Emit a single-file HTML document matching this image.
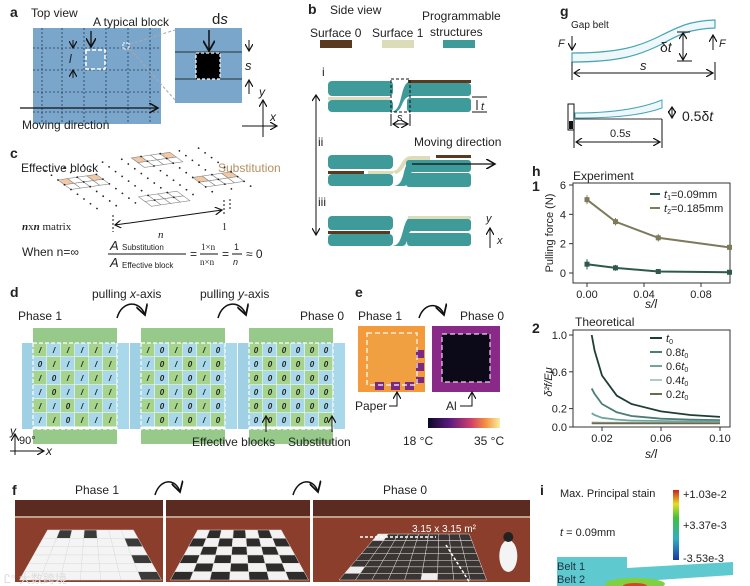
<!DOCTYPE html>
<html><head><meta charset="utf-8">
<style>
html,body{margin:0;padding:0;background:#fff;}
body{width:750px;height:586px;overflow:hidden;position:relative;font-family:"Liberation Sans",sans-serif;}
svg{position:absolute;left:0;top:0;}
text{font-family:"Liberation Sans",sans-serif;fill:#222;}
.lb{font-weight:bold;font-size:14px;}
.t{font-size:12px;}
.s{font-size:10px;}
</style></head>
<body>
<svg id="fig" width="750" height="586" viewBox="0 0 750 586">
<defs>
<marker id="ah" markerWidth="8" markerHeight="8" refX="7" refY="4" orient="auto"><path d="M0,0 L7,4 L0,8" fill="none" stroke="#111" stroke-width="1.2"/></marker>
<marker id="ahs" markerWidth="8" markerHeight="8" refX="1" refY="4" orient="auto"><path d="M7,0 L1,4 L7,8" fill="none" stroke="#111" stroke-width="1.2"/></marker>
<linearGradient id="thermo" x1="0" x2="1"><stop offset="0" stop-color="#0b0a25"/><stop offset="0.3" stop-color="#5a1a80"/><stop offset="0.6" stop-color="#d0406a"/><stop offset="0.8" stop-color="#f59040"/><stop offset="1" stop-color="#f8f0a0"/></linearGradient>
<linearGradient id="strain" x1="0" y1="1" x2="0" y2="0"><stop offset="0" stop-color="#1a3aa0"/><stop offset="0.3" stop-color="#30b0c0"/><stop offset="0.6" stop-color="#40c040"/><stop offset="0.8" stop-color="#e0e020"/><stop offset="1" stop-color="#d02020"/></linearGradient>
</defs>

<!-- Panel a -->
<g>
<text class="lb" x="10" y="17">a</text><text class="t" x="31" y="17">Top view</text>
<rect x="33" y="28" width="128" height="96" fill="#7aa6cc"/>
<g stroke="#2a3a55" stroke-width="0.8" stroke-dasharray="2,2">
<line x1="33" y1="48" x2="161" y2="48"/><line x1="33" y1="70" x2="161" y2="70"/><line x1="33" y1="92" x2="161" y2="92"/><line x1="33" y1="112" x2="161" y2="112"/>
<line x1="42" y1="28" x2="42" y2="124"/><line x1="62" y1="28" x2="62" y2="124"/><line x1="84" y1="28" x2="84" y2="124"/><line x1="106" y1="28" x2="106" y2="124"/><line x1="128" y1="28" x2="128" y2="124"/><line x1="150" y1="28" x2="150" y2="124"/></g>
<rect x="86" y="50" width="19" height="19" fill="none" stroke="#fff" stroke-width="1.5" stroke-dasharray="4,2"/>
<rect x="123" y="43" width="6" height="6" fill="none" stroke="#fff" stroke-width="1" stroke-dasharray="2,1"/>
<line x1="91" y1="31" x2="91" y2="47" stroke="#111" stroke-width="1.3" marker-end="url(#ah)"/>
<text class="t" x="93" y="26">A typical block</text>
<line x1="73" y1="40" x2="73" y2="48" stroke="#111" marker-end="url(#ah)"/><line x1="73" y1="78" x2="73" y2="70" stroke="#111" marker-end="url(#ah)"/>
<text x="69" y="63" font-size="12" font-style="italic">l</text>
<line x1="130" y1="44" x2="175" y2="30" stroke="#aaa" stroke-dasharray="3,2"/><line x1="130" y1="49" x2="175" y2="100" stroke="#aaa" stroke-dasharray="3,2"/>
<rect x="175" y="28" width="67" height="75" fill="#7aa6cc"/>
<line x1="175" y1="52" x2="242" y2="52" stroke="#233"/><line x1="175" y1="79" x2="242" y2="79" stroke="#233"/>
<rect x="196" y="53" width="24" height="26" fill="#000" stroke="#fff" stroke-width="1.2" stroke-dasharray="3,2"/>
<line x1="209" y1="30" x2="209" y2="51" stroke="#111" stroke-width="1.5" marker-end="url(#ah)"/>
<text x="212" y="24" font-size="15">d<tspan font-style="italic">s</tspan></text>
<line x1="249" y1="40" x2="249" y2="51" stroke="#111" marker-end="url(#ah)"/><line x1="249" y1="94" x2="249" y2="80" stroke="#111" marker-end="url(#ah)"/>
<text x="245" y="70" font-size="13" font-style="italic">s</text>
<line x1="20" y1="108" x2="158" y2="108" stroke="#111" stroke-width="1.3" marker-end="url(#ah)"/>
<text class="t" x="22" y="129">Moving direction</text>
<line x1="263" y1="137" x2="263" y2="100" stroke="#111" marker-end="url(#ah)"/><line x1="242" y1="126" x2="277" y2="126" stroke="#111" marker-end="url(#ah)"/>
<text x="259" y="96" font-size="12" font-style="italic">y</text><text x="270" y="121" font-size="12" font-style="italic">x</text>
</g>

<!-- Panel c -->
<g>
<text class="lb" x="10" y="158">c</text>
<text class="t" x="21" y="172">Effective block</text><text class="t" x="218" y="172" style="fill:#b39060">Substitution</text>
<g id="cgrid" stroke="#888" stroke-width="0.6" fill="none"></g>
<line x1="115" y1="225" x2="222" y2="210" stroke="#111" marker-end="url(#ah)" marker-start="url(#ahs)"/>
<line x1="113" y1="215" x2="113" y2="232" stroke="#111" stroke-dasharray="2,2"/><line x1="224" y1="200" x2="224" y2="216" stroke="#111" stroke-dasharray="2,2"/><line x1="230" y1="199" x2="230" y2="210" stroke="#111" stroke-dasharray="2,2"/>
<text x="158" y="238" font-size="11" font-style="italic" style="font-family:'Liberation Serif'">n</text><text x="222" y="230" font-size="10" style="font-family:'Liberation Serif'">1</text>
<text x="22" y="230" font-size="11" style="font-family:'Liberation Serif'"><tspan font-weight="bold" font-style="italic">n</tspan>x<tspan font-weight="bold" font-style="italic">n</tspan> matrix</text>
<text class="t" x="22" y="256">When n=∞</text>
<text x="110" y="250" font-size="13" font-style="italic">A</text><text x="122" y="250" font-size="8">Substitution</text>
<line x1="108" y1="254" x2="186" y2="254" stroke="#111"/>
<text x="110" y="267" font-size="13" font-style="italic">A</text><text x="122" y="268" font-size="8">Effective block</text>
<text x="190" y="258" font-size="12">=</text>
<text x="201" y="250" font-size="9" style="font-family:'Liberation Serif'">1×n</text><line x1="200" y1="254" x2="218" y2="254" stroke="#111"/><text x="200" y="265" font-size="9" style="font-family:'Liberation Serif'">n×n</text>
<text x="222" y="258" font-size="12">=</text>
<text x="234" y="250" font-size="9">1</text><line x1="232" y1="254" x2="242" y2="254" stroke="#111"/><text x="233" y="265" font-size="9" font-style="italic">n</text>
<text x="246" y="258" font-size="12">≈ 0</text>
</g>

<!-- Panel b -->
<g>
<text class="lb" x="308" y="14">b</text><text class="t" x="330" y="14">Side view</text>
<text class="t" x="310" y="37">Surface 0</text><text class="t" x="372" y="37">Surface 1</text>
<text class="t" x="422" y="20">Programmable</text><text class="t" x="430" y="36">structures</text>
<rect x="320" y="40" width="32" height="8" fill="#5a3a1e"/>
<rect x="382" y="40" width="32" height="8" fill="#dcdcb8"/>
<rect x="443" y="40" width="32" height="8" fill="#3f9a9a"/>
<line x1="316" y1="95" x2="316" y2="235" stroke="#111" marker-end="url(#ah)" marker-start="url(#ahs)"/>
<text x="322" y="76" font-size="12">i</text><text x="318" y="146" font-size="12">ii</text><text x="318" y="206" font-size="12">iii</text>
<rect x="328" y="81" width="65" height="15" rx="4" fill="#3f9a9a"/><rect x="328" y="100" width="65" height="12" rx="4" fill="#3f9a9a"/>
<rect x="328" y="97" width="62" height="3" fill="#dcdcb8"/>
<path d="M390,112 C405,112 398,81 412,81 L412,96 C400,96 404,112 394,112Z" fill="#3f9a9a"/>
<rect x="407" y="83" width="64" height="13" rx="3" fill="#3f9a9a"/><rect x="407" y="98" width="64" height="14" rx="3" fill="#3f9a9a"/>
<rect x="408" y="80" width="63" height="3" fill="#5a3a1e"/>
<rect x="391" y="79" width="19" height="33" fill="none" stroke="#111" stroke-dasharray="3,2"/>
<line x1="472" y1="97" x2="487" y2="97" stroke="#111"/><line x1="472" y1="112" x2="487" y2="112" stroke="#111"/>
<line x1="477" y1="100" x2="477" y2="110" stroke="#111" stroke-width="1"/><text x="481" y="110" font-size="11" font-style="italic">t</text>
<line x1="391" y1="114" x2="391" y2="126" stroke="#111"/><line x1="410" y1="114" x2="410" y2="126" stroke="#111"/>
<line x1="393" y1="124" x2="408" y2="124" stroke="#111" marker-end="url(#ah)" marker-start="url(#ahs)"/><text x="397" y="121" font-size="11" font-style="italic">s</text>
<text class="t" x="414" y="146">Moving direction</text>
<rect x="328" y="155" width="65" height="14" rx="4" fill="#3f9a9a"/><rect x="328" y="174" width="65" height="12" rx="4" fill="#3f9a9a"/>
<rect x="328" y="171" width="36" height="3" fill="#5a3a1e"/><rect x="368" y="171" width="25" height="3" fill="#dcdcb8"/>
<path d="M392,171 C402,171 400,156 412,156 L430,156 L430,160 L414,160 C404,160 405,171 396,174Z" fill="#dcdcb8"/>
<path d="M393,186 C408,186 400,160 414,160 L414,172 C405,172 410,186 404,186Z" fill="#3f9a9a"/>
<rect x="406" y="160" width="65" height="12" rx="3" fill="#3f9a9a"/><rect x="406" y="173" width="65" height="14" rx="3" fill="#3f9a9a"/>
<rect x="436" y="155" width="35" height="3" fill="#5a3a1e"/>
<line x1="412" y1="164" x2="495" y2="164" stroke="#111" stroke-width="1.3" marker-end="url(#ah)"/>
<rect x="328" y="216" width="65" height="14" rx="4" fill="#3f9a9a"/><rect x="328" y="234" width="65" height="12" rx="4" fill="#3f9a9a"/>
<rect x="328" y="231" width="62" height="3" fill="#5a3a1e"/>
<path d="M392,246 C406,246 400,216 414,216 L414,230 C405,230 410,246 402,246Z" fill="#3f9a9a"/>
<rect x="407" y="219" width="64" height="12" rx="3" fill="#3f9a9a"/><rect x="407" y="233" width="64" height="13" rx="3" fill="#3f9a9a"/>
<rect x="408" y="216" width="63" height="3" fill="#dcdcb8"/>
<line x1="490" y1="248" x2="490" y2="228" stroke="#111" marker-end="url(#ah)"/><text x="486" y="222" font-size="11" font-style="italic">y</text><text x="497" y="244" font-size="11" font-style="italic">x</text>
</g>

<!-- Panel g -->
<g>
<text class="lb" x="560" y="16">g</text>
<text x="571" y="28" font-size="10">Gap belt</text>
<path d="M572,53 C620,53 640,46 660,36 C680,26 690,21 715,20 L715,28 C690,29 680,34 662,44 C640,55 620,62 572,62Z" fill="#eef8fa" stroke="#4aa5b5" stroke-width="1.2"/>
<text x="558" y="47" font-size="11" font-style="italic">F</text><line x1="572" y1="36" x2="572" y2="50" stroke="#111" marker-end="url(#ah)"/>
<line x1="713" y1="50" x2="713" y2="35" stroke="#111" marker-end="url(#ah)"/><text x="719" y="47" font-size="11" font-style="italic">F</text>
<line x1="677" y1="32" x2="690" y2="32" stroke="#111"/><line x1="677" y1="61" x2="692" y2="61" stroke="#111"/>
<line x1="683" y1="33" x2="683" y2="60" stroke="#111" marker-end="url(#ah)" marker-start="url(#ahs)"/>
<text x="660" y="52" font-size="14">δ<tspan font-style="italic">t</tspan></text>
<line x1="572" y1="62" x2="572" y2="80" stroke="#111"/><line x1="715" y1="62" x2="715" y2="80" stroke="#111"/>
<line x1="574" y1="73" x2="713" y2="73" stroke="#111" marker-end="url(#ah)" marker-start="url(#ahs)"/>
<text x="640" y="70" font-size="13" font-style="italic">s</text>
<rect x="568" y="104" width="6" height="26" fill="#fff" stroke="#111"/><rect x="569" y="121" width="4" height="8" fill="#111"/>
<path d="M575,113 C610,113 640,109 662,100 L662,108 C640,116 610,118 575,118Z" fill="#eef8fa" stroke="#4aa5b5"/>
<line x1="575" y1="119" x2="662" y2="119" stroke="#333"/>
<line x1="672" y1="107" x2="672" y2="118" stroke="#111" marker-end="url(#ah)" marker-start="url(#ahs)"/>
<text x="682" y="121" font-size="14">0.5δ<tspan font-style="italic">t</tspan></text>
<line x1="574" y1="130" x2="574" y2="148" stroke="#111"/><line x1="662" y1="119" x2="662" y2="148" stroke="#111"/>
<line x1="576" y1="142" x2="660" y2="142" stroke="#111" marker-end="url(#ah)" marker-start="url(#ahs)"/>
<text x="610" y="137" font-size="11">0.5<tspan font-style="italic">s</tspan></text>
</g>

<!-- Panel h -->
<g>
<text class="lb" x="532" y="176">h</text><text class="lb" x="532" y="191">1</text>
<text class="t" x="573" y="180">Experiment</text>
<g id="h1"></g>
<text class="lb" x="532" y="333">2</text><text class="t" x="575" y="326">Theoretical</text>
<g id="h2"></g>
</g>

<!-- Panel d -->
<g>
<text class="lb" x="10" y="297">d</text>
<text class="t" x="18" y="320">Phase 1</text><text class="t" x="300" y="320">Phase 0</text>
<text class="t" x="92" y="298">pulling <tspan font-style="italic">x</tspan>-axis</text>
<text class="t" x="200" y="298">pulling <tspan font-style="italic">y</tspan>-axis</text>
<path d="M117,318 C122,300 140,300 145,315" fill="none" stroke="#111" stroke-width="1.5" marker-end="url(#ah)"/>
<path d="M218,318 C223,300 241,300 246,315" fill="none" stroke="#111" stroke-width="1.5" marker-end="url(#ah)"/>
<g id="dgrids"></g>
<text class="t" x="192" y="446">Effective blocks</text><text class="t" x="288" y="446">Substitution</text>
<line x1="266" y1="432" x2="266" y2="416" stroke="#111" marker-end="url(#ah)"/><line x1="332" y1="432" x2="332" y2="416" stroke="#111" marker-end="url(#ah)"/>
<line x1="15" y1="455" x2="15" y2="434" stroke="#111" marker-end="url(#ah)"/><line x1="10" y1="451" x2="44" y2="451" stroke="#111" marker-end="url(#ah)"/>
<text x="10" y="435" font-size="12" font-style="italic">y</text><text x="46" y="455" font-size="12" font-style="italic">x</text><text x="19" y="444" font-size="11">90°</text>
</g>

<!-- Panel e -->
<g>
<text class="lb" x="355" y="297">e</text>
<text class="t" x="358" y="320">Phase 1</text><text class="t" x="460" y="320">Phase 0</text>
<path d="M419,318 C424,302 440,302 444,315" fill="none" stroke="#111" stroke-width="1.5" marker-end="url(#ah)"/>
<rect x="358" y="326" width="67" height="66" fill="#f39a3a"/>
<rect x="366" y="333" width="50" height="52" fill="#f0a040"/>
<rect x="375" y="382" width="9" height="8" fill="#7a2a80"/><rect x="391" y="382" width="9" height="8" fill="#7a2a80"/><rect x="405" y="382" width="9" height="8" fill="#7a2a80"/>
<rect x="416" y="350" width="8" height="8" fill="#7a2a80"/><rect x="416" y="363" width="8" height="8" fill="#7a2a80"/><rect x="416" y="377" width="8" height="6" fill="#7a2a80"/>
<rect x="367" y="333" width="50" height="52" fill="none" stroke="#fff" stroke-dasharray="5,3" stroke-width="1.2"/>
<rect x="432" y="326" width="68" height="66" fill="#8a2a88"/>
<rect x="442" y="334" width="48" height="48" fill="#0c0a18" stroke="#f0d0f0" stroke-dasharray="5,3" stroke-width="1.2"/>
<text class="t" x="355" y="410">Paper</text><path d="M389,406 L397,406 L397,392" fill="none" stroke="#111" marker-end="url(#ah)"/>
<text class="t" x="446" y="410">Al</text><path d="M460,406 L472,406 L472,392" fill="none" stroke="#111" marker-end="url(#ah)"/>
<rect x="428" y="418" width="72" height="10" fill="url(#thermo)"/>
<text class="t" x="403" y="445">18 °C</text><text class="t" x="474" y="445">35 °C</text>
</g>

<!-- Panel f -->
<g>
<text class="lb" x="12" y="495">f</text>
<text class="t" x="75" y="494">Phase 1</text><text class="t" x="383" y="494">Phase 0</text>
<path d="M155,495 C160,478 176,478 180,492" fill="none" stroke="#111" stroke-width="1.5" marker-end="url(#ah)"/>
<path d="M293,495 C298,478 314,478 318,492" fill="none" stroke="#111" stroke-width="1.5" marker-end="url(#ah)"/>
<g id="photos"></g>
<text x="412" y="532" font-size="10" style="fill:#fff">3.15 x 3.15 m²</text>
<line x1="360" y1="537" x2="436" y2="537" stroke="#fff" stroke-dasharray="3,2" stroke-width="1.5"/>
<line x1="446" y1="545" x2="470" y2="583" stroke="#fff" stroke-dasharray="3,2" stroke-width="1.5"/>
<text x="4" y="583" font-size="12" style="fill:#ddd;font-family:'Liberation Sans','Noto Sans CJK SC',sans-serif">Ꮭ° 大数跨境</text>
</g>

<!-- Panel i -->
<g>
<text class="lb" x="540" y="495">i</text>
<text x="560" y="497" font-size="11">Max. Principal stain</text>
<rect x="673" y="490" width="6" height="70" fill="url(#strain)"/>
<text x="683" y="498" font-size="11">+1.03e-2</text><text x="683" y="529" font-size="11">+3.37e-3</text><text x="683" y="562" font-size="11">-3.53e-3</text>
<text x="560" y="536" font-size="11"><tspan font-style="italic">t</tspan> = 0.09mm</text>
<rect x="557" y="557" width="70" height="20" fill="#5ecad0"/>
<path d="M627,568 L733,562 L733,575 L627,582Z" fill="#5ecad0"/>
<rect x="557" y="577" width="90" height="9" fill="#5ecad0"/>
<ellipse cx="635" cy="584" rx="30" ry="6" fill="#80d040"/><ellipse cx="635" cy="586" rx="12" ry="3" fill="#e04020"/>
<text x="557" y="570" font-size="11" style="fill:#234">Belt 1</text><text x="557" y="583" font-size="11" style="fill:#234">Belt 2</text>
</g>
</svg>

<script>
// ===== Chart h1 data =====
const h1X = [0.0, 0.02, 0.05, 0.1];
const h1T1 = [0.6, 0.35, 0.1, 0.05];
const h1T2 = [5.0, 3.5, 2.4, 1.75];
const h1T1Err = [0.35, 0.2, 0.08, 0.06];
const h1T2Err = [0.3, 0.25, 0.25, 0.2];
const h1XTicks = [0.00, 0.04, 0.08];
const h1YTicks = [0, 2, 4, 6];
const h1Legend = ["=0.09mm", "=0.185mm"];
// ===== Chart h2 data =====
const h2X = [0.013, 0.015, 0.02, 0.03, 0.04, 0.06, 0.08, 0.1];
const h2T0 = [1.0, 0.83, 0.56, 0.34, 0.25, 0.17, 0.13, 0.11];
const h2T08 = [0.42, 0.36, 0.25, 0.16, 0.12, 0.09, 0.08, 0.075];
const h2T06 = [0.15, 0.13, 0.10, 0.08, 0.07, 0.065, 0.06, 0.06];
const h2T04 = [0.05, 0.05, 0.048, 0.047, 0.046, 0.046, 0.045, 0.045];
const h2T02 = [0.04, 0.04, 0.04, 0.04, 0.04, 0.04, 0.04, 0.04];
const h2XTicks = [0.02, 0.06, 0.10];
const h2YTicks = [0.0, 0.2, 0.6, 1.0];
const h2Labels = ["", "0.8", "0.6", "0.4", "0.2"];

const NS = "http://www.w3.org/2000/svg";
function mk(tag, attrs, parent) { const e = document.createElementNS(NS, tag); for (const k in attrs) e.setAttribute(k, attrs[k]); parent.appendChild(e); return e; }
function txt(x, y, s, size, parent, extra) { const t = mk("text", Object.assign({x: x, y: y, "font-size": size}, extra || {}), parent); t.textContent = s; return t; }

// h1
(function(){
  const g = document.getElementById("h1");
  const L = 573, R = 730, T = 183, B = 283;
  const xs = v => 587 + (v - 0) * (701 - 587) / 0.08;
  const ys = v => 273 - v * (273 - 185) / 6;
  const box = mk("rect", {x: L, y: T, width: R - L, height: B - T, fill: "none", stroke: "#333"}, g);
  
  
  h1XTicks.forEach(v => { mk("line", {x1: xs(v), x2: xs(v), y1: B, y2: B + 4, stroke: "#333"}, g); txt(xs(v), B + 15, v.toFixed(2), 11, g, {"text-anchor": "middle"}); });
  h1YTicks.forEach(v => { mk("line", {x1: L - 4, x2: L, y1: ys(v), y2: ys(v), stroke: "#333"}, g); txt(L - 7, ys(v) + 4, String(v), 11, g, {"text-anchor": "end"}); });
  txt(651, 308, "s/l", 12, g, {"text-anchor": "middle", "font-style": "italic"});
  txt(0, 0, "Pulling force (N)", 11, g, {"text-anchor": "middle", transform: "translate(553,233) rotate(-90)"});
  const series = [[h1T1, h1T1Err, "#2d5a4c"], [h1T2, h1T2Err, "#7d7a5c"]];
  series.forEach((s, si) => {
    const pts = h1X.map((x, i) => xs(x) + "," + ys(s[0][i])).join(" ");
    const pl = mk("polyline", {points: pts, fill: "none", stroke: s[2], "stroke-width": 2}, g);
    
    
    h1X.forEach((x, i) => {
      mk("line", {x1: xs(x), x2: xs(x), y1: ys(s[0][i] + s[1][i]), y2: ys(s[0][i] - s[1][i]), stroke: s[2]}, g);
      const p = mk("rect", {x: xs(x) - 2.5, y: ys(s[0][i]) - 2.5, width: 5, height: 5, fill: s[2]}, g);
      
      
    });
    const ly = 198 + si * 14;
    mk("line", {x1: 650, x2: 660, y1: ly - 4, y2: ly - 4, stroke: s[2], "stroke-width": 2}, g);
    const lt = txt(664, ly, "", 11, g);
    lt.innerHTML = '<tspan font-style="italic">t</tspan><tspan font-size="7" dy="2">' + (si + 1) + '</tspan><tspan dy="-2">' + h1Legend[si] + '</tspan>';
    
    
  });
})();

// h2
(function(){
  const g = document.getElementById("h2");
  const L = 573, R = 730, T = 330, B = 427;
  const xs = v => 602 + (v - 0.02) * (720 - 602) / 0.08;
  const ys = v => 427 - v * (427 - 335);
  const box = mk("rect", {x: L, y: T, width: R - L, height: B - T, fill: "none", stroke: "#333"}, g);
  
  
  h2XTicks.forEach(v => { mk("line", {x1: xs(v), x2: xs(v), y1: B, y2: B + 4, stroke: "#333"}, g); txt(xs(v), B + 15, v.toFixed(2), 11, g, {"text-anchor": "middle"}); });
  h2YTicks.forEach(v => { mk("line", {x1: L - 4, x2: L, y1: ys(v), y2: ys(v), stroke: "#333"}, g); txt(L - 6, ys(v) + 4, v.toFixed(1), 11, g, {"text-anchor": "end"}); });
  txt(651, 458, "s/l", 12, g, {"text-anchor": "middle", "font-style": "italic"});
  txt(0, 0, "δ²f/Eμ", 11, g, {"text-anchor": "middle", "font-style": "italic", transform: "translate(552,382) rotate(-90)"});
  const ser = [h2T0, h2T08, h2T06, h2T04, h2T02];
  const cols = ["#1e3d36", "#4a7d74", "#6fa69c", "#b3c8c0", "#6b6a50"];
  ser.forEach((s, si) => {
    let d = "";
    h2X.forEach((x, i) => { d += (i ? " L" : "M") + xs(x).toFixed(1) + "," + ys(s[i]).toFixed(1); });
    const p = mk("path", {d: d, fill: "none", stroke: cols[si], "stroke-width": 1.8, "stroke-linejoin": "round"}, g);
    
    
    const ly = 342 + si * 14;
    mk("line", {x1: 650, x2: 662, y1: ly - 4, y2: ly - 4, stroke: cols[si], "stroke-width": 2}, g);
    const lt = txt(666, ly, "", 11, g);
    lt.innerHTML = h2Labels[si] + '<tspan font-style="italic">t</tspan><tspan font-size="7" dy="2">0</tspan>';
    
    
  });
})();

// Panel c isometric grid (illustration)
(function(){
  const g = document.getElementById("cgrid");
  const ox = 58, oy = 180;
  function pt(i, j) { return [ox + j * 9.6 + i * 6.5, oy - j * 1.4 + i * 4.75]; }
  const blocks = [[0,0,true],[-2,9,true],[5,5,false],[3,12,true]];
  blocks.forEach(b => {
    for (let i = 0; i < 2; i++) for (let j = 0; j < 4; j++) {
      const p = [pt(b[0]+i, b[1]+j), pt(b[0]+i, b[1]+j+1), pt(b[0]+i+1, b[1]+j+1), pt(b[0]+i+1, b[1]+j)];
      const fill = (b[2] && i === 0 && (j === 0 || j === 3)) ? "#f2c9a4" : "#fff";
      mk("polygon", {points: p.map(q => q.join(",")).join(" "), fill: fill}, g);
    }
  });
  for (let i = 0; i <= 8; i++) for (let j = 0; j <= 16; j += 2) {
    const p = pt(i - 2, j);
    mk("circle", {cx: p[0], cy: p[1], r: 0.9, fill: "#222", stroke: "none"}, g);
  }
})();

// Panel d grids
(function(){
  const g = document.getElementById("dgrids");
  const xs0 = [22, 130, 238];
  const pats = ["IIIIII0IIIIII0IIIII0IIIIII0IIIII0IIIII", "I0I0I0I0I0I0I0I0I0I0I0I0I0I0I0I0I0I0I0", "00000000000000000000000000000000000000"];
  xs0.forEach((x0, k) => {
    const y0 = 328, cw = 14, ch = 14;
    mk("rect", {x: x0 + 11, y: y0, width: 84, height: 15, fill: "#96c98a"}, g);
    mk("rect", {x: x0 + 11, y: y0 + 101, width: 84, height: 15, fill: "#96c98a"}, g);
    mk("rect", {x: x0, y: y0 + 15, width: 11, height: 86, fill: "#9fd0e4"}, g);
    mk("rect", {x: x0 + 95, y: y0 + 15, width: 12, height: 86, fill: "#a8d8ea"}, g);
    let n = 0;
    for (let r = 0; r < 6; r++) for (let c = 0; c < 6; c++) {
      const fill = (r + c) % 2 ? "#a8d8ea" : "#a6d48c";
      mk("rect", {x: x0 + 11 + c * cw, y: y0 + 15 + r * ch, width: cw - 0.5, height: ch - 0.5, fill: fill}, g);
      const ch_ = pats[k][n++ % pats[k].length];
      txt(x0 + 11 + c * cw + 7, y0 + 15 + r * ch + 10, ch_ === "I" ? "/" : "0", 8, g, {"text-anchor": "middle", "font-style": "italic", "font-weight": "bold"});
    }
    mk("rect", {x: x0 + 11, y: y0 + 15, width: 84, height: 86, fill: "none", stroke: "#fff", "stroke-dasharray": "4,2", "stroke-width": 1.2}, g);
  });
})();

// Panel f photos (illustration)
(function(){
  const g = document.getElementById("photos");
  const frames = [[15, 163, 0], [166, 310, 1], [313, 530, 2]];
  frames.forEach(f => {
    const x0 = f[0], x1 = f[1], w = x1 - x0, y0 = 500, y1 = 582;
    mk("rect", {x: x0, y: y0, width: w, height: y1 - y0, fill: "#8b3e2c"}, g);
    mk("rect", {x: x0, y: y0, width: w, height: 16, fill: "#5b2a20"}, g);
    mk("rect", {x: x0, y: y0 + 16, width: w, height: 2, fill: "#c0a080"}, g);
    const n = 7, m = 6;
    let tl = [x0 + w * 0.22, 530], tr = [x0 + w * 0.80, 530], bl = [x0 + w * 0.03, 580], br = [x0 + w * 0.99, 580];
    if (f[2] === 2) { tl = [x0 + w * 0.30, 534]; tr = [x0 + w * 0.72, 534]; bl = [x0 + w * 0.12, 580]; br = [x0 + w * 0.80, 580]; }
    const lerp = (a, b, t) => [a[0] + (b[0] - a[0]) * t, a[1] + (b[1] - a[1]) * t];
    const nn = f[2] === 2 ? 9 : n, mm = f[2] === 2 ? 7 : m;
    for (let r = 0; r < mm; r++) for (let c = 0; c < nn; c++) {
      const P = (rr, cc) => lerp(lerp(tl, tr, cc / nn), lerp(bl, br, cc / nn), rr / mm);
      const pts = [P(r, c), P(r, c + 1), P(r + 1, c + 1), P(r + 1, c)].map(q => q.join(",")).join(" ");
      let fill;
      if (f[2] === 0) fill = (c > 5 && r > 0 && r % 2 === 1) || (r === 0 && c % 2 === 1 && c < 5) ? "#3a3a38" : "#f4f4f4";
      else if (f[2] === 1) fill = (r + c) % 2 ? "#2e2c2a" : "#f2f2f2";
      else fill = (r === 0 && c < 1) || (r === 6 && c === 5) || (r === 5 && c === 0) ? "#eee" : "#3a3532";
      mk("polygon", {points: pts, fill: fill, stroke: "#ddd", "stroke-width": 0.5}, g);
    }
    if (f[2] === 2) { mk("ellipse", {cx: x0 + w * 0.9, cy: 556, rx: 9, ry: 16, fill: "#f4f4f4"}, g); mk("circle", {cx: x0 + w * 0.9, cy: 537, r: 5, fill: "#222"}, g); }
  });
})();
</script>
</body></html>
